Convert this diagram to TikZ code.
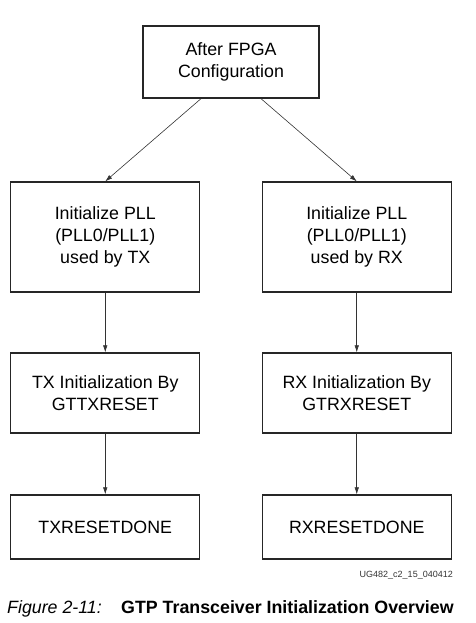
\documentclass[tikz,border=0pt]{standalone}
\usepackage{fontspec}
\setmainfont{Liberation Sans}
\usetikzlibrary{arrows.meta}
\begin{document}
\begin{tikzpicture}[
        x=1pt, y=-1pt,
        box/.style={draw=black!85, line width=1.3pt, rectangle, minimum width=189pt, align=center, inner sep=0pt, font=\fontsize{17.8}{22}\selectfont},
        startbox/.style={box, minimum width=176pt, minimum height=72pt},
        pllbox/.style={box, minimum height=110pt},
        initbox/.style={box, minimum height=80pt},
        donebox/.style={box, minimum height=64pt},
        edge from parent/.style={draw=black!80, line width=0.6pt, -{Latex[length=7pt,width=4.5pt]}},
        level 1/.style={sibling distance=251.5pt, level distance=175pt},
        level 2/.style={level distance=156pt, edge from parent path={(\tikzparentnode.south) -- (\tikzchildnode.north)}},
        level 3/.style={level distance=134pt, edge from parent path={(\tikzparentnode.south) -- (\tikzchildnode.north)}},
    ]
    \useasboundingbox (0,0) rectangle (475,623);
    \node[startbox](start) at (231,62) {After FPGA\\Configuration}
    child[edge from parent path={([xshift=-30pt]\tikzparentnode.south) -- (\tikzchildnode.north)}]{node[pllbox](pllTX){Initialize PLL\\(PLL0/PLL1)\\used by TX}
        child{node[initbox](initTX){TX Initialization By\\GTTXRESET}
            child{node[donebox](doneTX){TXRESETDONE}}
        }
    }
    child[edge from parent path={([xshift=30pt]\tikzparentnode.south) -- (\tikzchildnode.north)}]{node[pllbox](pllRX){Initialize PLL\\(PLL0/PLL1)\\used by RX}
        child{node[initbox](initRX){RX Initialization By\\GTRXRESET}
            child{node[donebox](doneRX){RXRESETDONE}}
        }
    }
    ;
    % figure id and caption
    \node[anchor=base east, inner sep=0pt, text=black!80, font=\fontsize{9}{11}\selectfont](figid) at (453,577) {UG482\_c2\_15\_040412};
    \node[anchor=base west, inner sep=0pt, font=\fontsize{17.8}{21}\selectfont\itshape](figlabel) at (7,613) {Figure 2-11:};
    \node[anchor=base west, inner sep=0pt, font=\fontsize{17.8}{21}\selectfont\bfseries](figtitle) at (121,613) {GTP Transceiver Initialization Overview};
\end{tikzpicture}
\end{document}
